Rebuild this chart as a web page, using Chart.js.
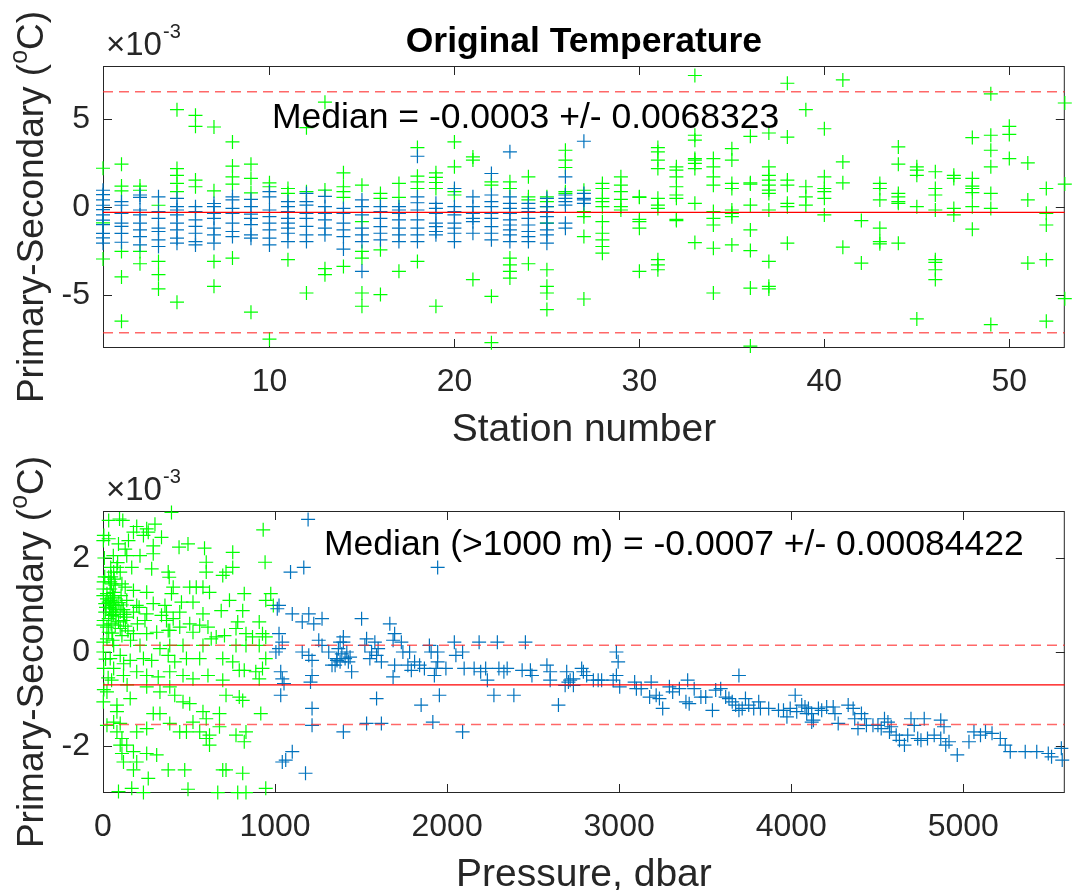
<!DOCTYPE html>
<html>
<head>
<meta charset="utf-8">
<script src="https://cdn.jsdelivr.net/npm/chart.js@4.4.1/dist/chart.umd.min.js"></script>
<style>
    html, body { margin: 0; padding: 0; background: #fff; }
    #page { position: relative; width: 1073px; height: 893px; overflow: hidden; }
    canvas { position: absolute; left: 0; }
    #stationCanvas { top: 0; }
    #pressureCanvas { top: 445px; }
</style>
</head>
<body>
<div id="page">
    <canvas id="stationCanvas" width="1073" height="445"></canvas>
    <canvas id="pressureCanvas" width="1073" height="445"></canvas>
</div>
<script>
// all differences are in units of 1e-3 degC (axes show the x10^-3 factor)

// top panel: one list per station (station 1 first)
const stationShallow = [
    [2.2, -0.9, -2.95],
    [2.43, 1.19, 0.92, -2.52, -3.97, -6.48],
    [1.19, 0.95, -2.52, -3.22],
    [0.1, -3.09, -3.84, -4.65],
    [5.52, 2.18, 1.8, 1.34, 0.87, -5.4],
    [5.2, 4.58, 1.53, 1.15],
    [4.54, 0.92, -3.09, -4.5],
    [3.69, 2.32, 1.71, 1.3, -2.9],
    [2.43, 1.62, 0.8, -5.97],
    [1.37, 1.15, -7.5],
    [1.05, 0.77, -2.99],
    [4.5, 0.87, -4.88],
    [5.95, 0.96, -3.5, -3.84],
    [1.94, 1.15, 0.87, 0.55, -3.37],
    [1.24, -0.83, -2.52, -2.9, -4.88, -5.63],
    [0.77, 0.49, -2.43, -4.97],
    [1.34, 0.55, -3.65],
    [3.37, 1.75, 1.43, 1.05, -3.09],
    [1.94, 1.68, 1.39, 1.05, -5.63],
    [3.69, 2.28, 0.87, 0.68],
    [2.84, 2.66, -4.12],
    [1.43, 1.24, -5.07, -7.7],
    [1.43, 1.05, -2.9, -3.28, -3.65, -4.03],
    [1.71, 0.58, 0.4, -3.22],
    [0.58, 0.3, 0.02, -0.92, -3.56, -4.5, -4.88, -5.82],
    [3.22, 2.66, 2.24, 0.87, 0.77],
    [0.95, -0.26, -0.55, -1.68, -5.22],
    [1.34, 1.05, 0.49, 0.3, 0.02, -0.83, -1.49, -1.86, -2.24, -2.62],
    [1.71, 1.24, 0.87, 0.43, 0.02, -0.17],
    [0.58, 0.55, -0.7, -0.83, -1.2, -3.65],
    [3.37, 3.13, 2.66, 2.18, 0.49, 0.11, -0.08, -2.99, -3.28, -3.56],
    [2.28, 2.09, 1.71, 1.15, 0.68, 0.49, -0.7, -0.77],
    [7.46, 4.07, 3.79, 2.75, 2.66, 2.47, 2.18, 0.21, -2.02],
    [2.75, 2.28, 1.71, 1.24, -0.26, -0.64, -1.02, -2.34, -4.88],
    [3.31, 2.66, 1.34, 1.05, -0.17, -0.36, -0.55, -2.15],
    [4.01, 1.37, 1.3, 0.11, -1.3, -2.47, -4.6, -7.89],
    [4.2, 2.28, 1.8, 1.53, 1.24, 0.96, 0.77, -0.17, -3.09, -4.5, -4.65],
    [7.02, 3.97, 1.53, 1.24, 0.21, 0.02, -2.05],
    [5.52, 1.15, 0.58, 0.11],
    [4.44, 1.71, 1.05, 0.87, 0.49, -0.45],
    [7.21, 2.56, 1.37, -2.28],
    [-0.77, -3.18],
    [1.34, 1.05, 0.4, -1.2, -1.96, -2.09],
    [3.41, 2.43, 0.77, 0.58, 0.3, 0.21, -2.05],
    [2.28, 2.09, 1.8, 0.02, -6.35],
    [2.0, 1.05, 0.68, -0.17, -2.99, -3.14, -3.56, -4.12],
    [1.8, 1.62, -0.08, -0.45],
    [3.94, 1.62, 1.19, 1.05, 0.81, 0.02, -1.26],
    [6.42, 4.07, 3.22, 2.28, 0.77, -0.08, -6.67],
    [4.58, 4.12, 2.75],
    [2.5, 0.4, -3.18],
    [1.05, -0.36, -1.02, -2.99, -6.48],
    [5.9, 1.3, -5.2]
];

// samples deeper than 1000 dbar, stations 1-27
const stationDeep = [
    [0.95, 0.7, 0.4, 0.1, -0.15, -0.45, -0.75, -1.0, -1.5, -1.75, -2.05],
    [0.3, 0.1, -0.36, -0.92, -1.1, -1.5, -2.0],
    [0.68, 0.55, -0.17, -0.45, -0.92, -1.3, -1.68, -2.15],
    [0.58, -0.26, -0.64, -1.2, -1.39, -1.86, -2.24],
    [0.49, 0.02, -0.17, -0.45, -0.92, -1.3, -1.77, -2.05],
    [0.02, -0.26, -0.73, -1.1, -1.49, -1.96, -2.15],
    [0.2, 0.02, -0.36, -0.64, -1.2, -1.58, -2.05],
    [0.58, 0.4, -0.08, -0.36, -0.92, -1.39, -1.68],
    [0.43, 0.02, -0.4, -0.64, -1.0, -1.58, -1.77],
    [0.87, 0.58, -0.17, -0.55, -0.92, -1.3, -1.77, -2.15],
    [0.3, 0.02, -0.26, -0.64, -0.92, -1.2, -1.49, -1.96],
    [0.77, 0.3, 0.11, -0.36, -0.64, -1.1, -1.58, -1.96],
    [0.6, 0.02, -0.36, -0.73, -1.2, -1.58],
    [-0.08, -0.36, -0.92, -1.3, -1.68, -2.39],
    [0.4, 0.02, -0.45, -1.2, -1.58, -1.96, -3.65],
    [0.02, -0.26, -0.64, -1.11, -1.49, -1.86],
    [0.02, -0.17, -0.36, -0.73, -1.2, -1.58, -1.96],
    [2.88, 0.58, 0.24, -0.17, -0.73, -1.2, -1.58, -1.96],
    [0.21, -0.08, -0.36, -0.92, -1.11, -1.39, -1.58],
    [1.05, 0.02, -0.26, -0.45, -0.92, -1.2, -1.49, -1.96],
    [0.58, 0.02, -0.36, -0.64, -0.83, -1.49],
    [1.9, 0.68, 0.3, 0.02, -0.36, -0.64, -1.11, -1.49, -1.86],
    [3.13, 0.58, 0.21, -0.08, -0.36, -0.73, -1.02, -1.3, -1.58, -1.96],
    [0.21, -0.08, -0.26, -0.64, -1.02, -1.39, -1.68, -1.96],
    [0.49, 0.02, -0.26, -0.55, -0.92, -1.3, -1.58, -2.05],
    [1.71, 0.68, 0.49, 0.3, 0.11, -0.92, -1.2],
    [3.73, 0.77, 0.49, 0.4, 0.21]
];

const stationTicks = [10, 20, 30, 40, 50];
const stationDiffTicks = [-5, 0, 5];
const stationMedian = -0.3;
const stationSpread = 6.8323;

// bottom panel: [pressure dbar, difference]
const pressureShallow = [
    [33, 2.80], [96, 2.83], [115, 2.80], [196, 2.67], [302, 2.72], [398, 2.97], [931, 2.60], [254, 2.62],
    [5, 2.48], [33, 2.41], [2, 2.37], [177, 2.55], [235, 2.48], [263, 2.55], [340, 2.44], [148, 2.37],
    [494, 2.30], [442, 2.23], [590, 2.21], [292, 2.26], [129, 2.19], [90, 2.30],
    [138, 2.05], [215, 2.05], [292, 2.09], [754, 2.12], [754, 1.80], [600, 1.91], [600, 1.70], [942, 1.91],
    [696, 1.63], [715, 1.70], [62, 1.70], [81, 1.80], [167, 1.80], [283, 1.77], [379, 1.70], [385, 1.59],
    [33, 1.59], [100, 1.70],
    [4, 1.49], [42, 1.49], [71, 1.42], [110, 1.45], [129, 1.38], [177, 1.31], [254, 1.27], [408, 1.38],
    [398, 1.24], [504, 1.38], [542, 1.38], [581, 1.38], [619, 1.27], [821, 1.24], [975, 1.24], [946, 1.10],
    [735, 1.10], [812, 0.88], [687, 0.88], [523, 1.06], [456, 1.06], [360, 0.99], [369, 0.85], [292, 1.03],
    [254, 0.81], [196, 0.99], [138, 1.10], [62, 0.99], [33, 1.06], [23, 1.24], [2, 1.20], [2, 1.34],
    [13, 0.85], [100, 0.85], [177, 0.85], [446, 0.85], [581, 0.81], [610, 0.53], [783, 0.64], [908, 0.64],
    [927, 0.39], [4, 0.67], [52, 0.78], [119, 0.67], [138, 0.74], [244, 0.67], [340, 0.78], [369, 0.67],
    [379, 0.46], [504, 0.60], [408, 0.71], [658, 0.32], [773, 0.50], [831, 0.39], [990, 0.99],
    [23, 1.13], [42, 0.92], [52, 1.06], [33, 0.71], [62, 1.27], [42, 1.34], [81, 0.99], [90, 0.64],
    [110, 0.35], [33, 0.42], [71, 0.57], [52, 0.85], [13, 1.03],
    [45, 1.8], [48, 1.6], [50, 1.45], [55, 1.2], [58, 1.0], [60, 0.8], [47, 0.6], [52, 0.4],
    [56, 0.25], [44, 1.1], [38, 0.95], [65, 1.55], [68, 1.15], [72, 0.9], [76, 0.75], [105, 1.2],
    [110, 1.0], [118, 0.9], [125, 0.8], [92, 1.05], [130, 0.55], [145, 0.45], [160, 0.25], [200, 0.6],
    [210, 0.95], [120, -0.25], [140, -0.7], [50, -0.6], [30, -0.55], [18, 0.95], [10, 1.6], [8, 2.0],
    [15, -0.15], [5, -0.8], [85, 1.9], [60, 2.05],
    [2, 0.57], [23, 0.53], [100, 0.50], [177, 0.39], [254, 0.39], [312, 0.42], [388, 0.46], [446, 0.53],
    [523, 0.42], [562, 0.57], [629, 0.28], [706, 0.35], [869, 0.32], [946, 0.32], [908, 0.14], [23, 0.28],
    [2, 0.21], [62, 0.14], [215, 0.14], [331, 0.07], [388, 0.14], [465, 0.14], [581, 0.14], [773, 0.14],
    [831, 0.14],
    [2, 0.0], [42, -0.14], [100, -0.07], [158, -0.18], [235, -0.14], [283, -0.18], [379, -0.07], [417, -0.21],
    [485, -0.14], [562, -0.14], [610, -0.50], [696, -0.14], [754, -0.21], [792, -0.39], [821, -0.39],
    [888, -0.42], [927, -0.35], [946, -0.14], [4, -0.35], [62, -0.35], [119, -0.50], [196, -0.42],
    [254, -0.50], [321, -0.53], [388, -0.42], [465, -0.50], [523, -0.57], [696, -0.60], [908, -0.57],
    [23, -0.85], [2, -1.06], [81, -1.13], [158, -0.99], [254, -0.74], [331, -0.85], [388, -0.74], [417, -0.92],
    [465, -1.06], [504, -1.10], [715, -0.92], [792, -0.96], [812, -1.03], [81, -1.27], [292, -1.31],
    [331, -1.31], [581, -1.27], [600, -1.42], [677, -1.31], [917, -1.31], [523, -1.49],
    [62, -1.49], [100, -1.52], [81, -1.70], [196, -1.70], [254, -1.63], [388, -1.52], [446, -1.70],
    [485, -1.70], [562, -1.70], [619, -1.77], [677, -1.59], [773, -1.77], [821, -1.91], [831, -1.70],
    [619, -1.98], [600, -1.84], [23, -1.56],
    [100, -1.98], [110, -2.16], [177, -2.12], [254, -2.16], [312, -2.19], [119, -2.34], [177, -2.51],
    [196, -2.34], [263, -2.69], [379, -2.51], [475, -2.51], [696, -2.51], [715, -2.51], [812, -2.58],
    [90, -2.97], [167, -2.90], [235, -2.99], [494, -2.92], [667, -2.99], [783, -2.99], [831, -2.99],
    [946, -2.90], [138, -1.98], [110, -1.84]
];

const pressureDeep = [
    [1023, 0.99], [1013, 0.92], [1100, 0.81], [1196, 0.81], [1158, 0.64], [1225, 0.60], [1273, 0.71],
    [1090, 1.70], [1167, 1.80], [1192, 2.82], [1023, 0.39], [1042, 0.21], [1023, 0.07], [1005, 0.0],
    [1158, 0.0], [1196, -0.07], [1215, -0.18], [1254, 0.25], [1273, 0.14], [1312, 0.0], [1331, -0.28],
    [1360, -0.18], [1033, -0.42], [1042, -0.57], [1052, -0.67], [1033, -0.92], [1206, -0.64], [1215, -0.50],
    [1215, -1.20], [1215, -1.56], [1100, -2.12], [1062, -2.30], [1042, -2.34], [1177, -2.58],
    [1368, 0.07], [1388, -0.04], [1407, -0.14], [1426, -0.21], [1349, -0.28], [1397, 0.21], [1417, 0.0],
    [1436, -0.11], [1359, -0.14], [1378, -0.21], [1445, -0.42], [1503, 0.71], [1397, 0.32], [1378, 0.21],
    [1532, 0.28], [1522, 0.14], [1580, 0.21], [1599, 0.07], [1590, -0.07], [1618, -0.21], [1561, 0.0],
    [1551, -0.14], [1667, 0.60], [1695, 0.39], [1686, 0.25], [1695, -0.28], [1686, -0.53], [1734, 0.21],
    [1743, 0.0], [1782, 0.0], [1772, -0.28], [1811, -0.21], [1840, -0.28], [1868, -0.35], [1792, -0.39],
    [1897, 0.14], [1907, 0.0], [1945, 0.0], [1945, -0.21], [1936, -0.35], [1926, -0.50], [1993, -0.35],
    [2042, 0.21], [2051, -0.07], [2090, 0.0], [2099, -0.35], [2157, -0.35], [2186, 0.21], [2195, -0.42],
    [2224, -0.35], [2234, -0.60], [2292, 0.21], [2301, -0.35], [2330, -0.42], [2349, -0.35], [2455, 0.21],
    [2436, -0.39], [2484, -0.39], [2493, -0.50], [2580, -0.28], [2599, -0.42], [2599, -0.60], [2695, -0.42],
    [2686, -0.71], [2705, -0.64], [2734, -0.71], [1590, -0.99], [1849, -1.13], [1955, -0.92], [2272, -0.92],
    [2388, -0.92], [2647, -1.13], [1532, -1.52], [1618, -1.52], [1397, -1.70], [1917, -1.49], [2090, -1.70],
    [1945, 1.80],
    [2715, -0.60], [2734, -0.57], [2792, -0.42], [2782, -0.35], [2811, -0.50], [2850, -0.60], [2878, -0.60],
    [2898, -0.60], [2984, 0.0], [2994, -0.21], [2984, -0.50], [2965, -0.60], [3003, -0.74], [3090, -0.64],
    [3128, -0.78], [3100, -0.78], [3186, -0.64], [3177, -0.96], [3215, -0.92], [3253, -1.20], [3234, -0.99],
    [3292, -0.74], [3311, -0.85], [3350, -0.78], [3398, -0.60], [3388, -1.06], [3407, -1.10], [3436, -0.78],
    [3475, -0.96], [3503, -0.96], [3542, -1.24], [3561, -0.81], [3590, -0.78], [3619, -0.96], [3638, -0.99],
    [3657, -1.06], [3677, -1.13], [3696, -0.50], [3696, -1.24], [3715, -1.20], [3734, -0.99], [3753, -1.13],
    [3782, -1.20], [3811, -1.06], [3821, -1.20], [3869, -1.20], [3926, -1.24], [3955, -1.24], [3975, -1.38],
    [3994, -1.20], [4023, -0.92], [4032, -1.27], [4061, -1.13], [4080, -1.17], [4090, -1.31], [4119, -1.49],
    [4100, -1.20], [4119, -1.31], [4129, -1.45], [4158, -1.20], [4177, -1.24], [4206, -1.17], [4244, -1.17],
    [4254, -1.31], [4273, -1.52], [4331, -1.13], [4360, -1.20], [4369, -1.42], [4388, -1.63], [4408, -1.31],
    [4427, -1.42], [4437, -1.56], [4475, -1.56], [4504, -1.56], [4523, -1.63], [4542, -1.42], [4562, -1.49],
    [4571, -1.70], [4581, -1.59], [4610, -1.77], [4629, -1.88], [4658, -1.98], [4677, -1.77], [4696, -1.42],
    [4715, -1.56], [4735, -1.84], [4754, -1.88], [4773, -1.42], [4792, -1.84], [4831, -1.77], [4869, -1.84],
    [4869, -1.45], [4888, -1.59], [4898, -1.98], [4917, -1.91], [4965, -2.19], [5033, -1.91], [5062, -1.70],
    [5100, -1.77], [5129, -1.70], [5167, -1.73], [5215, -1.84], [5244, -1.98], [5273, -2.12], [5360, -2.12],
    [5427, -2.12], [5494, -2.16], [5513, -2.23], [5570, -2.05], [5575, -2.30]
];

const pressureTicks = [0, 1000, 2000, 3000, 4000, 5000];
const pressureDiffTicks = [-2, 0, 2];
const deepMedian = -0.7;
const deepSpread = 0.84422;

const FONT = '"Liberation Sans", Arial, Helvetica, sans-serif';
const INK = '#262626';

function drawYLabel(ctx, x, y) {
    const big = '37px ' + FONT;
    const small = '25px ' + FONT;
    ctx.save();
    ctx.translate(x, y);
    ctx.rotate(-Math.PI / 2);
    ctx.fillStyle = INK;
    ctx.textAlign = 'left';
    ctx.textBaseline = 'alphabetic';
    ctx.font = big;
    const w1 = ctx.measureText('Primary-Secondary (').width;
    const w3 = ctx.measureText('C)').width;
    ctx.font = small;
    const w2 = ctx.measureText('o').width;
    const sx = -(w1 + w2 + w3) / 2;
    ctx.font = big;
    ctx.fillText('Primary-Secondary (', sx, 0);
    ctx.font = small;
    ctx.fillText('o', sx + w1, -16);
    ctx.font = big;
    ctx.fillText('C)', sx + w1 + w2, 0);
    ctx.restore();
}

// box, inward ticks and the extra texts matlab puts round the axes
const matlabAxes = {
    id: 'matlabAxes',
    beforeDatasetsDraw(chart) {
        const {ctx, chartArea: a, scales: {x, y}} = chart;
        ctx.save();
        ctx.strokeStyle = INK;
        ctx.lineWidth = 1;
        ctx.strokeRect(a.left + 0.5, a.top + 0.5, a.right - a.left - 1, a.bottom - a.top - 1);
        ctx.beginPath();
        x.ticks.forEach(t => {
            const px = Math.round(x.getPixelForValue(t.value)) + 0.5;
            ctx.moveTo(px, a.bottom); ctx.lineTo(px, a.bottom - 9);
            ctx.moveTo(px, a.top); ctx.lineTo(px, a.top + 9);
        });
        y.ticks.forEach(t => {
            const py = Math.round(y.getPixelForValue(t.value)) + 0.5;
            ctx.moveTo(a.left, py); ctx.lineTo(a.left + 9, py);
            ctx.moveTo(a.right, py); ctx.lineTo(a.right - 9, py);
        });
        ctx.stroke();
        ctx.restore();
    },
    afterDatasetsDraw(chart, args, opts) {
        const {ctx, chartArea: a} = chart;
        ctx.save();
        ctx.textAlign = 'left';
        ctx.textBaseline = 'alphabetic';

        // x10^-3 factor
        ctx.fillStyle = INK;
        ctx.font = '33px ' + FONT;
        ctx.fillText('\u00d710', 106, a.top - 11);
        const w = ctx.measureText('\u00d710').width;
        ctx.font = '20px ' + FONT;
        ctx.fillText('-3', 106 + w + 1, a.top - 28);

        drawYLabel(ctx, 43, (a.top + a.bottom) / 2);

        ctx.fillStyle = '#000';
        if (opts.title) {
            ctx.font = 'bold 35.5px ' + FONT;
            ctx.textAlign = 'center';
            ctx.fillText(opts.title, (a.left + a.right) / 2, 52);
            ctx.textAlign = 'left';
        }
        ctx.font = '35.5px ' + FONT;
        ctx.fillText(opts.note, opts.noteX, opts.noteY);
        ctx.restore();
    }
};

class DiffPanelView {

    #canvas;
    #chart;

    constructor(canvas) {
        this.#canvas = canvas;
    }

    displayChart(panelDescr) {
        if (this.#chart != null) {
            this.#chart.destroy();
        }
        this.#chart = new Chart(
            this.#canvas,
            {
                type: 'scatter',
                plugins: [matlabAxes],
                data: this.#getData(panelDescr),
                options: this.#getOptions(panelDescr)
            });
    }

    #getData(d) {
        const across = (v) => [{x: d.xMin, y: v}, {x: d.xMax, y: v}];
        const limit = (v) => ({
            type: 'line', data: across(v), borderColor: 'rgba(255,40,40,0.7)',
            borderWidth: 1.5, borderDash: [10, 6], pointRadius: 0
        });
        const marks = (pts, colour) => ({
            data: pts, pointStyle: 'cross', pointRadius: 7, pointHoverRadius: 7,
            borderWidth: 1.2, borderColor: colour, backgroundColor: colour, clip: false
        });
        return {
            datasets: [
                {type: 'line', data: across(d.median), borderColor: '#ff0000', borderWidth: 1.3, pointRadius: 0},
                limit(d.median + d.spread),
                limit(d.median - d.spread),
                marks(d.deep, '#0072bd'),
                marks(d.shallow, '#00ff00')
            ]
        };
    }

    #getOptions(d) {
        const fixTicks = (list) => (scale) => { scale.ticks = list.map(v => ({value: v})); };
        return {
            responsive: false,
            animation: false,
            layout: {padding: {top: 66, right: 1, left: 0, bottom: 0}},
            plugins: {
                legend: {display: false},
                tooltip: {enabled: false},
                matlabAxes: {title: d.title, note: d.note, noteX: d.noteX, noteY: d.noteY}
            },
            scales: {
                x: {
                    type: 'linear',
                    min: d.xMin,
                    max: d.xMax,
                    afterBuildTicks: fixTicks(d.xTicks),
                    afterFit: (scale) => { scale.height = 97; },
                    grid: {display: false, drawTicks: false},
                    border: {display: false},
                    ticks: {
                        color: INK, padding: 15, maxRotation: 0,
                        font: {family: FONT, size: 32},
                        callback: (v) => String(v)
                    },
                    title: {
                        display: true, text: d.xTitle, color: INK, padding: 0,
                        font: {family: FONT, size: 39, lineHeight: '30px'}
                    }
                },
                y: {
                    min: d.yMin,
                    max: d.yMax,
                    afterBuildTicks: fixTicks(d.yTicks),
                    afterFit: (scale) => { scale.width = 103; },
                    grid: {display: false, drawTicks: false},
                    border: {display: false},
                    ticks: {
                        color: INK, padding: 13,
                        font: {family: FONT, size: 32},
                        callback: (v) => String(v)
                    }
                }
            }
        };
    }
}

const stationPoints = (lists) => lists.flatMap((vals, i) => vals.map(v => ({x: i + 1, y: v})));
const pressurePoints = (pairs) => pairs.map(([p, v]) => ({x: p, y: v}));

new DiffPanelView(document.getElementById('stationCanvas')).displayChart({
    shallow: stationPoints(stationShallow),
    deep: stationPoints(stationDeep),
    median: stationMedian,
    spread: stationSpread,
    xMin: 1, xMax: 53, xTicks: stationTicks,
    yMin: -8, yMax: 8, yTicks: stationDiffTicks,
    xTitle: 'Station number',
    title: 'Original Temperature',
    note: 'Median = -0.0003 +/- 0.0068323', noteX: 272, noteY: 128
});

new DiffPanelView(document.getElementById('pressureCanvas')).displayChart({
    shallow: pressurePoints(pressureShallow),
    deep: pressurePoints(pressureDeep),
    median: deepMedian,
    spread: deepSpread,
    xMin: 0, xMax: 5590, xTicks: pressureTicks,
    yMin: -3, yMax: 3, yTicks: pressureDiffTicks,
    xTitle: 'Pressure, dbar',
    title: null,
    note: 'Median (>1000 m) = -0.0007 +/- 0.00084422', noteX: 324, noteY: 110
});
</script>
</body>
</html>
